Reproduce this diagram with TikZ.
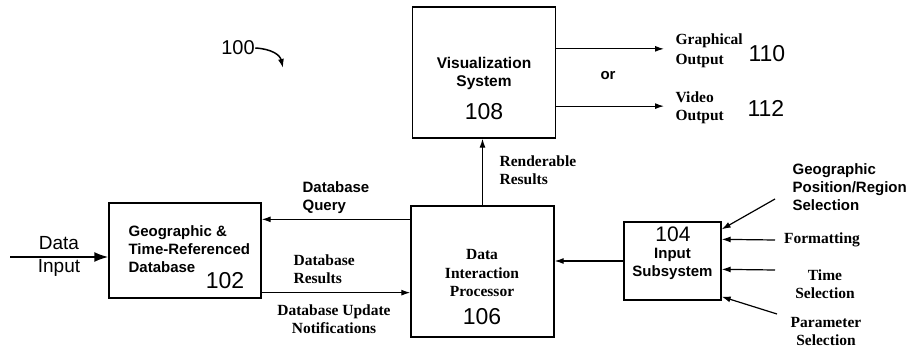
\documentclass[tikz,border=0pt]{standalone}
\usepackage{fontspec}
\newfontfamily\patsans{Liberation Sans}
\newfontfamily\patserif{Liberation Serif}
\usetikzlibrary{arrows.meta}

\begin{document}
\begin{tikzpicture}[x=1pt,y=-1pt,>={Latex[length=9pt,width=6pt]},line width=1.2pt,
  block/.style={draw,line width=1.3pt,inner sep=0pt},
  sanslbl/.style={font=\patsans\bfseries\fontsize{15}{18}\selectfont,align=center,inner sep=0pt},
  seriflbl/.style={font=\patserif\bfseries\fontsize{15.5}{18.5}\selectfont,align=center,inner sep=0pt},
  outlbl/.style={font=\patserif\bfseries\fontsize{15.5}{19.5}\selectfont,align=left,inner sep=0pt},
  refnum/.style={font=\patsans\fontsize{23}{23}\selectfont,inner sep=0pt}]
  \useasboundingbox (0,0) rectangle (914,358);
  % boxes
  \node[block,minimum width=152pt,minimum height=95pt] (db) at (185,250.5) {};
  \node[block,minimum width=143pt,minimum height=131pt] (proc) at (482.5,271.5) {};
  \node[block,minimum width=143.5pt,minimum height=131pt] (vis) at (484,72.5) {};
  \node[block,minimum width=97pt,minimum height=78pt] (inp) at (672.5,261) {};
  % box texts
  \node[sanslbl,align=left,anchor=west] at (128,249.5) {Geographic \&\\Time-Referenced\\Database};
  \node[refnum] at (225,281) {102};
  \node[seriflbl] at (482,273.5) {Data\\Interaction\\Processor};
  \node[refnum] at (482,317) {106};
  \node[sanslbl,font=\patsans\bfseries\fontsize{15.5}{18}\selectfont] at (484,73.5) {Visualization\\System};
  \node[refnum] at (484,112) {108};
  \node[refnum,font=\patsans\fontsize{21}{21}\selectfont] at (673,234.5) {104};
  \node[sanslbl,font=\patsans\bfseries\fontsize{15}{17.5}\selectfont] at (672.5,264) {Input\\Subsystem};
  % data input
  \node[font=\patsans\fontsize{19}{23}\selectfont,align=center,inner sep=0pt] (din) at (59,256) {Data\\Input};
  \coordinate (dinstart) at (10,257);
  \draw[->,line width=2pt,>={Latex[length=14pt,width=10pt]}] (dinstart) -- (dinstart -| db.west);
  % database links
  \coordinate (qry) at ([yshift=-14pt]proc.north west);
  \draw[->] (qry) -- (qry -| db.east);
  \node[sanslbl,align=left,anchor=west] at (302,197.5) {Database\\Query};
  \coordinate (res) at ([yshift=6pt]db.south east);
  \draw[->] (res) -- (res -| proc.west);
  \node[seriflbl,align=left,anchor=west] at (293,269) {Database\\Results};
  \node[seriflbl] at (334,319) {Database Update\\Notifications};
  % renderable results
  \draw[->] (proc.north) -- (proc.north |- vis.south);
  \node[seriflbl,align=left,anchor=west] at (499,170) {Renderable\\Results};
  % outputs
  \node[outlbl,anchor=west] (gout) at (675,51) {Graphical\\Output};
  \node[refnum,anchor=west] at (748,54) {110};
  \node[outlbl,anchor=west,font=\patserif\bfseries\fontsize{15.5}{18.5}\selectfont] (vout) at (675,108) {Video\\Output};
  \node[refnum,anchor=west] at (747,108) {112};
  \coordinate (gstart) at ([yshift=-42.5pt]vis.north east);
  \coordinate (vstart) at ([yshift=32.5pt]vis.south east);
  \draw[->] (gstart) -- ([xshift=-11pt]gstart -| gout.west);
  \draw[->] (vstart) -- ([xshift=-11pt]vstart -| vout.west);
  \node[sanslbl,font=\patsans\bfseries\fontsize{15}{15}\selectfont] at (608,76) {or};
  % input subsystem
  \draw[->] (inp.west) -- (inp.west -| proc.east);
  \node[sanslbl,align=left,anchor=west] at (792,187) {Geographic\\Position/Region\\Selection};
  \node[seriflbl] at (822,240) {Formatting};
  \node[seriflbl] at (825,284) {Time\\Selection};
  \node[seriflbl] at (826,331.5) {Parameter\\Selection};
  \coordinate (geoin) at (775,199);
  \coordinate (fmtin) at (775,240);
  \coordinate (timein) at (775,270);
  \coordinate (parin) at (777,314);
  \draw[->] (geoin) -- ([yshift=-8pt]inp.north east);
  \draw[->] (fmtin) -- ([yshift=-18pt]inp.north east);
  \draw[->] (timein) -- ([yshift=-48pt]inp.north east);
  \draw[->] (parin) -- ([yshift=4pt]inp.south east);
  % figure number
  \node[refnum,font=\patsans\fontsize{20}{20}\selectfont] (fignum) at (238,48) {100};
  \coordinate (figtip) at (283,68);
  \draw[->,line width=1.5pt] (fignum.east) .. controls (272,49) and (280,55) .. (figtip);
\end{tikzpicture}
\end{document}
